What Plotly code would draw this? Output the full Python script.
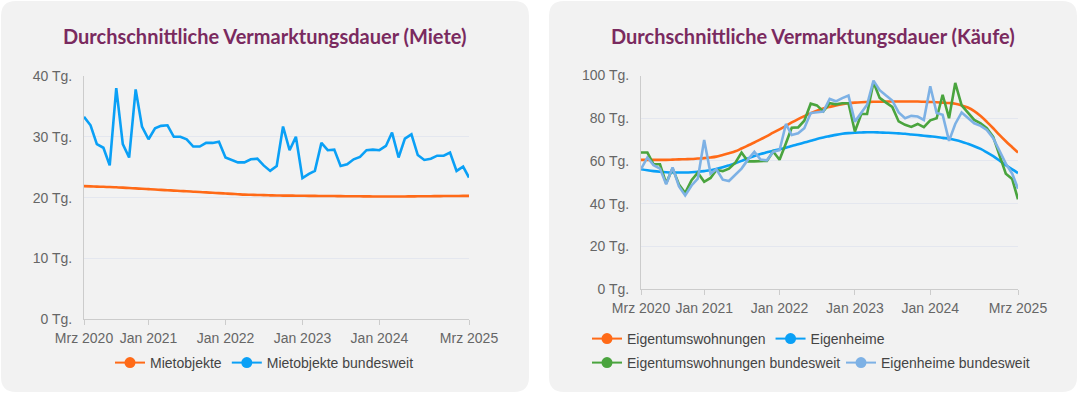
import plotly.graph_objects as go
import pandas as pd

W, H = 1078, 394

# ---------------- data ----------------
months = pd.date_range("2020-03-01", "2025-03-01", freq="MS").strftime("%Y-%m-%d").tolist()

miete_objekte = [21.9, 21.86, 21.82, 21.78, 21.74, 21.7, 21.64, 21.58, 21.52, 21.46,
                 21.4, 21.34, 21.28, 21.22, 21.16, 21.1, 21.04, 20.98, 20.92, 20.86,
                 20.8, 20.74, 20.68, 20.62, 20.56, 20.5, 20.47, 20.44, 20.41, 20.38,
                 20.35, 20.34, 20.33, 20.32, 20.31, 20.3, 20.29, 20.28, 20.27, 20.26,
                 20.25, 20.24, 20.23, 20.22, 20.21, 20.2, 20.2, 20.2, 20.2, 20.2,
                 20.2, 20.21, 20.22, 20.23, 20.24, 20.25, 20.26, 20.27, 20.28, 20.29, 20.3]
miete_bundesweit = [33.3, 31.9, 28.8, 28.2, 25.3, 38.0, 28.8, 26.6, 37.8, 31.7,
                    29.6, 31.4, 31.8, 31.9, 30.0, 30.0, 29.6, 28.4, 28.4, 29.0,
                    29.0, 29.2, 26.6, 26.2, 25.8, 25.8, 26.3, 26.4, 25.3, 24.4,
                    25.2, 31.7, 27.8, 30.0, 23.2, 23.9, 24.4, 29.0, 27.8, 27.9,
                    25.2, 25.5, 26.3, 26.7, 27.8, 27.9, 27.8, 28.5, 30.7, 26.6,
                    29.7, 30.4, 27.0, 26.2, 26.4, 26.9, 26.9, 27.4, 24.4, 25.1, 23.3]

etw = [60.5, 60.5, 60.5, 60.5, 60.5, 60.6, 60.7, 60.8, 60.9, 61.1,
       61.3, 61.6, 62.0, 62.8, 63.6, 64.5, 65.8, 67.2, 68.6, 70.1,
       71.6, 73.2, 74.8, 76.4, 78.0, 79.6, 81.0, 82.3, 83.5, 84.5,
       85.3, 86.0, 86.6, 87.0, 87.3, 87.5, 87.6, 87.7, 87.7, 87.8,
       87.8, 87.8, 87.8, 87.8, 87.8, 87.7, 87.6, 87.5, 87.3, 87.1,
       86.8, 86.0, 85.0, 83.3, 81.0, 78.3, 75.3, 72.2, 69.2, 66.4, 63.9]
eigenheime = [56.1, 55.6, 55.2, 54.9, 54.7, 54.6, 54.6, 54.6, 54.7, 54.9,
              55.2, 55.6, 56.2, 57.0, 57.9, 58.9, 60.0, 61.2, 62.3, 63.2,
              64.0, 64.8, 65.5, 66.2, 67.0, 67.8, 68.6, 69.4, 70.3, 71.0,
              71.6, 72.2, 72.7, 73.0, 73.2, 73.3, 73.4, 73.4, 73.3, 73.2,
              73.1, 72.9, 72.7, 72.4, 72.1, 71.8, 71.5, 71.2, 70.8, 70.4,
              69.8, 69.0, 68.0, 66.9, 65.6, 64.0, 62.2, 60.2, 58.0, 56.0, 54.3]
etw_bundesweit = [63.9, 63.9, 58.4, 58.4, 49.5, 56.5, 49.0, 45.0, 51.0, 54.5,
                  50.2, 52.0, 55.7, 55.2, 56.4, 59.2, 63.9, 59.8, 59.8, 59.8,
                  60.0, 64.4, 60.5, 68.3, 75.5, 75.7, 78.8, 86.8, 86.0, 83.2,
                  87.0, 86.5, 87.0, 87.0, 73.8, 82.0, 82.0, 96.8, 89.5, 87.3,
                  85.3, 78.5, 76.9, 75.9, 77.3, 75.8, 79.0, 80.0, 91.0, 80.0,
                  96.5, 86.0, 82.7, 79.2, 77.6, 75.3, 71.3, 62.5, 54.0, 51.5, 42.0]
eh_bundesweit = [56.1, 61.6, 58.0, 56.4, 49.0, 56.9, 48.0, 43.8, 48.5, 51.7,
                 69.8, 54.0, 56.1, 51.2, 50.6, 53.7, 56.4, 60.6, 64.3, 60.6,
                 60.3, 64.3, 65.0, 77.3, 72.1, 72.9, 75.3, 82.4, 82.8, 83.1,
                 89.0, 87.9, 89.4, 90.6, 78.4, 82.4, 86.3, 97.6, 93.1, 90.6,
                 88.3, 82.7, 80.0, 81.1, 80.8, 79.2, 95.0, 82.4, 81.6, 69.4,
                 77.3, 82.7, 80.0, 77.6, 76.4, 74.5, 70.6, 65.0, 58.7, 54.0, 47.0]

x_tickvals = ["2020-03-01", "2021-01-01", "2022-01-01", "2023-01-01", "2024-01-01", "2025-03-01"]
x_ticktext = ["Mrz 2020", "Jan 2021", "Jan 2022", "Jan 2023", "Jan 2024", "Mrz 2025"]
y1_tickvals = [0, 10, 20, 30, 40]
y2_tickvals = [0, 20, 40, 60, 80, 100]
titles = ["Durchschnittliche Vermarktungsdauer (Miete)", "Durchschnittliche Vermarktungsdauer (Käufe)"]

ORANGE = "#ff6a17"
BLUE = "#0aa0f6"
GREEN = "#4aa43e"
LBLUE = "#7db1e5"

# ---------------- helpers ----------------
def px(x):
    return x / W

def py(y):
    return 1 - y / H

def rrect(x0, y0, x1, y1, r):
    rx, ry = r / W, r / H
    X0, X1 = px(x0), px(x1)
    Y0, Y1 = py(y0), py(y1)
    return (f"M {X0+rx},{Y0} L {X1-rx},{Y0} Q {X1},{Y0} {X1},{Y0-ry} "
            f"L {X1},{Y1+ry} Q {X1},{Y1} {X1-rx},{Y1} L {X0+rx},{Y1} "
            f"Q {X0},{Y1} {X0},{Y1+ry} L {X0},{Y0-ry} Q {X0},{Y0} {X0+rx},{Y0} Z")

fig = go.Figure()

LW = 2.6
fig.add_trace(go.Scatter(x=months, y=miete_objekte, mode="lines", line=dict(color=ORANGE, width=LW, shape="spline"),
                         xaxis="x", yaxis="y", showlegend=False, hoverinfo="skip"))
fig.add_trace(go.Scatter(x=months, y=miete_bundesweit, mode="lines", line=dict(color=BLUE, width=LW),
                         xaxis="x", yaxis="y", showlegend=False, hoverinfo="skip"))
fig.add_trace(go.Scatter(x=months, y=etw, mode="lines", line=dict(color=ORANGE, width=LW, shape="spline"),
                         xaxis="x2", yaxis="y2", showlegend=False, hoverinfo="skip"))
fig.add_trace(go.Scatter(x=months, y=eigenheime, mode="lines", line=dict(color=BLUE, width=LW, shape="spline"),
                         xaxis="x2", yaxis="y2", showlegend=False, hoverinfo="skip"))
fig.add_trace(go.Scatter(x=months, y=etw_bundesweit, mode="lines", line=dict(color=GREEN, width=LW),
                         xaxis="x2", yaxis="y2", showlegend=False, hoverinfo="skip"))
fig.add_trace(go.Scatter(x=months, y=eh_bundesweit, mode="lines", line=dict(color=LBLUE, width=LW),
                         xaxis="x2", yaxis="y2", showlegend=False, hoverinfo="skip"))

def leg(name, color, legend, xa, ya):
    fig.add_trace(go.Scatter(x=[None], y=[None], mode="lines+markers", name=name,
                             line=dict(color=color, width=2), marker=dict(color=color, size=11),
                             xaxis=xa, yaxis=ya, legend=legend, showlegend=True))

leg("Mietobjekte", ORANGE, "legend", "x", "y")
leg("Mietobjekte bundesweit", BLUE, "legend", "x", "y")
leg("Eigentumswohnungen", ORANGE, "legend2", "x2", "y2")
leg("Eigenheime", BLUE, "legend2", "x2", "y2")
leg("Eigentumswohnungen bundesweit", GREEN, "legend3", "x2", "y2")
leg("Eigenheime bundesweit", LBLUE, "legend3", "x2", "y2")

TICKFONT = dict(family="Liberation Sans, Arial, sans-serif", size=14, color="#666666")
GRID = "#e4e7ef"
AXL = "#cccccc"

xcommon = dict(type="date", tickmode="array", tickvals=x_tickvals, ticktext=x_ticktext,
               ticks="outside", ticklen=5, tickcolor=AXL, tickwidth=1, tickangle=0,
               showline=True, linecolor=AXL, linewidth=1, showgrid=False, zeroline=False,
               tickfont=TICKFONT, fixedrange=True, ticklabelstandoff=1)
ycommon = dict(showline=True, linecolor=AXL, linewidth=1, showgrid=True, gridcolor=GRID, gridwidth=1,
               zeroline=False, ticks="", tickfont=TICKFONT, fixedrange=True, ticklabelstandoff=8)

legcommon = dict(orientation="h", font=dict(family="Liberation Sans, Arial, sans-serif", size=14, color="#444444"),
                 bgcolor="rgba(0,0,0,0)", borderwidth=0, itemclick=False, itemdoubleclick=False,
                 xanchor="left", yanchor="middle", tracegroupgap=0)

TITLEFONT = dict(family="Lato, sans-serif", size=20, color="#7a2a5f", weight=700)

fig.update_layout(
    width=W, height=H,
    margin=dict(l=0, r=0, t=0, b=0, autoexpand=False),
    paper_bgcolor="white",
    plot_bgcolor="rgba(0,0,0,0)",
    xaxis=dict(domain=[px(84), px(469)], range=["2020-03-01", "2025-03-01"], anchor="y", **xcommon),
    yaxis=dict(domain=[py(319.3), py(76)], range=[0, 40], anchor="x", tickvals=y1_tickvals,
               ticktext=[f"{v} Tg." for v in y1_tickvals], **ycommon),
    xaxis2=dict(domain=[px(641), px(1018)], range=["2020-03-01", "2025-03-01"], anchor="y2", **xcommon),
    yaxis2=dict(domain=[py(289), py(75.5)], range=[0, 100], anchor="x2", tickvals=y2_tickvals,
                ticktext=[f"{v} Tg." for v in y2_tickvals], **ycommon),
    legend=dict(x=px(110), y=py(363), **legcommon),
    legend2=dict(x=px(587), y=py(339), **legcommon),
    legend3=dict(x=px(587), y=py(363), entrywidth=209, entrywidthmode="pixels", **legcommon),
    shapes=[
        dict(type="path", xref="paper", yref="paper", path=rrect(1, 1, 529, 392, 15),
             fillcolor="#f2f2f2", line=dict(width=0), layer="below"),
        dict(type="path", xref="paper", yref="paper", path=rrect(549, 1, 1077, 392, 15),
             fillcolor="#f2f2f2", line=dict(width=0), layer="below"),
    ],
    annotations=[
        dict(text=titles[0], x=px(265), y=py(36), xref="paper", yref="paper", showarrow=False,
             xanchor="center", yanchor="middle", font=TITLEFONT),
        dict(text=titles[1], x=px(813), y=py(36), xref="paper", yref="paper", showarrow=False,
             xanchor="center", yanchor="middle", font=TITLEFONT),
    ],
    hovermode=False,
)

fig.write_html("out.html", config={"displayModeBar": False},
               post_script="document.body.style.margin='0';document.body.style.overflow='hidden';"
                           "document.documentElement.style.overflow='hidden';")
